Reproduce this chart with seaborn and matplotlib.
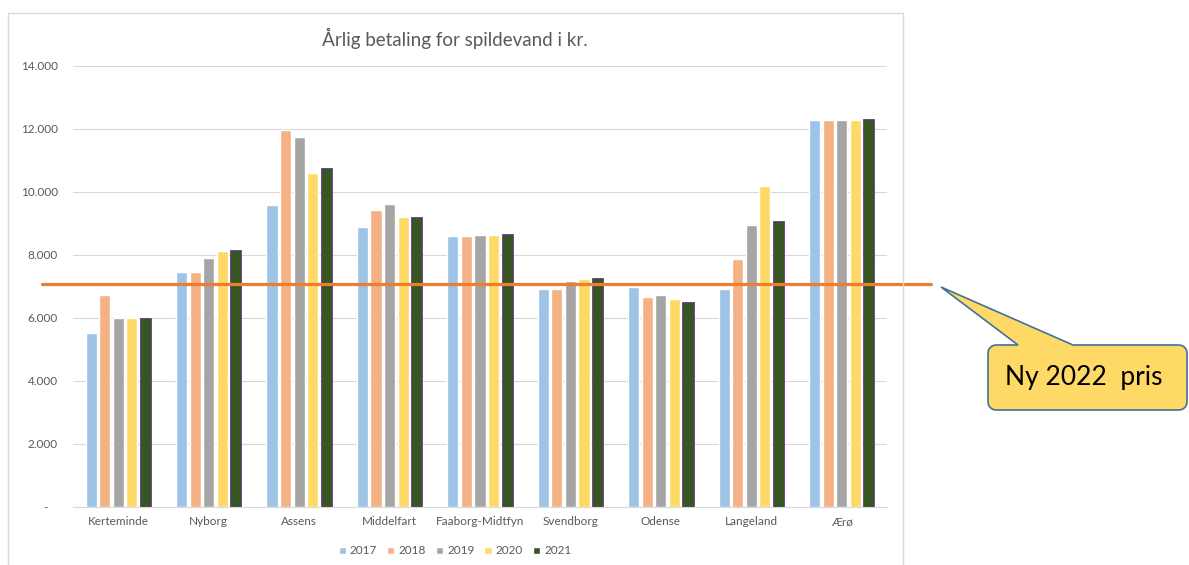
import numpy as np
import pandas as pd
import seaborn as sns
import matplotlib.pyplot as plt
from matplotlib import transforms
from matplotlib.patches import Polygon, Rectangle
from matplotlib.lines import Line2D

kommuner = ["Kerteminde", "Nyborg", "Assens", "Middelfart", "Faaborg-Midtfyn",
            "Svendborg", "Odense", "Langeland", "Ærø"]
years = ["2017", "2018", "2019", "2020", "2021"]
v2017 = [5500, 7440, 9580, 8880, 8590, 6910, 6980, 6910, 12270]
v2018 = [6710, 7440, 11970, 9430, 8610, 6910, 6650, 7860, 12270]
v2019 = [5980, 7900, 11730, 9620, 8630, 7160, 6720, 8960, 12290]
v2020 = [5980, 8130, 10590, 9210, 8620, 7240, 6610, 10180, 12290]
v2021 = [5990, 8150, 10770, 9210, 8660, 7270, 6500, 9060, 12320]
ny_pris = 7070

colors = ["#9DC3E6", "#F4B183", "#A5A5A5", "#FFD966", "#375623"]

rows = []
for yr, vals in zip(years, [v2017, v2018, v2019, v2020, v2021]):
    for k, v in zip(kommuner, vals):
        rows.append({"kommune": k, "aar": yr, "kr": v})
df = pd.DataFrame(rows)

sns.set_style("white")
plt.rcParams["font.family"] = ["Lato", "DejaVu Sans"]

W, H = 1189, 565
fig = plt.figure(figsize=(W / 100, H / 100), dpi=100)


def fx(x):
    return x / W


def fy(y):
    return 1 - y / H


ax = fig.add_axes([fx(73), fy(506.5), fx(887) - fx(73), fy(66) - fy(506.5)])

sns.barplot(data=df, x="kommune", y="kr", hue="aar", palette=colors,
            width=0.75, gap=0.18, ax=ax, saturation=1, errorbar=None)

# 2021 bars have a thin purple outline
for p in ax.containers[-1]:
    p.set_edgecolor("#7030A0")
    p.set_linewidth(0.6)

ax.set_ylim(0, 14000)
ax.set_xlim(-0.5, len(kommuner) - 0.5)
yt = np.arange(0, 14001, 2000)
ax.set_yticks(yt)
ax.set_yticklabels(["-   " if v == 0 else f"{v:,.0f}".replace(",", ".") for v in yt])
ax.grid(axis="y", color="#D9D9D9", linewidth=0.8)
ax.set_axisbelow(True)
for s in ["top", "right", "left"]:
    ax.spines[s].set_visible(False)
ax.spines["bottom"].set_color("#D9D9D9")
ax.tick_params(axis="both", length=0, labelsize=8.5, labelcolor="#595959")
ax.tick_params(axis="y", pad=11)
ax.tick_params(axis="x", pad=7)
ax.set_xlabel("")
ax.set_ylabel("")

# legend
ax.legend(ncol=5, loc="center", bbox_to_anchor=(fx(455), fy(551)),
          bbox_transform=fig.transFigure, frameon=False, fontsize=8.5,
          handlelength=0.6, handleheight=0.6, handletextpad=0.35,
          columnspacing=0.85, labelcolor="#595959")

# chart frame and title
fig.patches.append(Rectangle((fx(8), fy(570)), fx(903) - fx(8), fy(13) - fy(570),
                             transform=fig.transFigure, fill=False,
                             edgecolor="#D9D9D9", linewidth=1))
fig.text(fx(455), fy(38), "Årlig betaling for spildevand i kr.", ha="center",
         va="center", fontsize=13.5, color="#595959")

# orange line for the new 2022 price
trans = transforms.blended_transform_factory(fig.transFigure, ax.transData)
ax.add_line(Line2D([fx(42), fx(931)], [ny_pris, ny_pris], transform=trans,
                   color="#ED7D31", linewidth=2.3, clip_on=False, zorder=5))

# callout box with pointer
x0, x1, y0, y1, r = 988, 1187, 345, 410, 8
pts = [(1018, y0), (941, 287), (1073, y0), (x1 - r, y0)]
for a in np.linspace(90, 0, 6):
    pts.append((x1 - r + r * np.cos(np.radians(a)), y0 + r - r * np.sin(np.radians(a))))
for a in np.linspace(0, -90, 6):
    pts.append((x1 - r + r * np.cos(np.radians(a)), y1 - r - r * np.sin(np.radians(a))))
for a in np.linspace(270, 180, 6):
    pts.append((x0 + r + r * np.cos(np.radians(a)), y1 - r - r * np.sin(np.radians(a))))
for a in np.linspace(180, 90, 6):
    pts.append((x0 + r + r * np.cos(np.radians(a)), y0 + r - r * np.sin(np.radians(a))))
fig.patches.append(Polygon([(fx(px), fy(py)) for px, py in pts], closed=True,
                           transform=fig.transFigure, facecolor="#FFD966",
                           edgecolor="#41719C", linewidth=1.2))
fig.text(fx(1005), fy(378), "Ny 2022  pris", ha="left", va="center",
         fontsize=19, color="black")

plt.savefig("out.png", dpi=100)
